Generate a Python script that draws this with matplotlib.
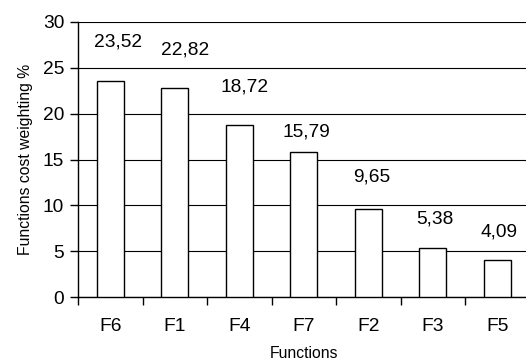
import numpy as np
import matplotlib
matplotlib.use("Agg")
import matplotlib.pyplot as plt

plt.rcParams['font.family'] = ['Liberation Sans', 'DejaVu Sans']

categories = ["F6", "F1", "F4", "F7", "F2", "F3", "F5"]
values = [23.52, 22.82, 18.72, 15.79, 9.65, 5.38, 4.09]
value_labels = ["23,52", "22,82", "18,72", "15,79", "9,65", "5,38", "4,09"]
# label placement: height above the bar (data units) and sideways shift (category units)
label_raise = [4.30, 4.12, 4.22, 2.24, 3.41, 3.13, 3.00]
label_shift = [0.12, 0.16, 0.08, 0.04, 0.05, 0.03, 0.02]
yticks = [0, 5, 10, 15, 20, 25, 30]

fig = plt.figure(figsize=(5.26, 3.6), dpi=100)
ax = fig.add_axes([78 / 526, 63 / 360, 451.5 / 526, 275 / 360])

x = np.arange(len(categories))
ax.bar(x, values, width=0.414, color="white", edgecolor="black", linewidth=1.0, zorder=3)

for xi, v, lab, dy, dx in zip(x, values, value_labels, label_raise, label_shift):
    ax.text(xi + dx, v + dy, lab, ha="center", va="center", fontsize=13.8, color="black", zorder=4)

ax.set_xlim(-0.5, len(categories) - 0.5)
ax.set_ylim(0, 30)
ax.set_yticks(yticks)
ax.yaxis.grid(True, color="black", linewidth=0.8, zorder=0)
ax.set_axisbelow(True)

ax.set_xticks(x)
ax.set_xticklabels(categories, fontsize=13.8)
ax.set_xticks(np.arange(len(categories) + 1) - 0.5, minor=True)
ax.tick_params(axis="x", which="major", length=0, pad=15)
ax.tick_params(axis="x", which="minor", length=6, width=1.0, direction="out")
ax.tick_params(axis="y", length=6, width=1.0, direction="out", labelsize=13.8, pad=4)

for side in ("top", "right"):
    ax.spines[side].set_visible(False)
for side in ("left", "bottom"):
    ax.spines[side].set_linewidth(1.0)
    ax.spines[side].set_color("black")

ax.set_xlabel("Functions", fontsize=11.3, labelpad=8)
ax.set_ylabel("Functions cost weighting %", fontsize=11.3, labelpad=7)

fig.savefig("out.png", dpi=100)
